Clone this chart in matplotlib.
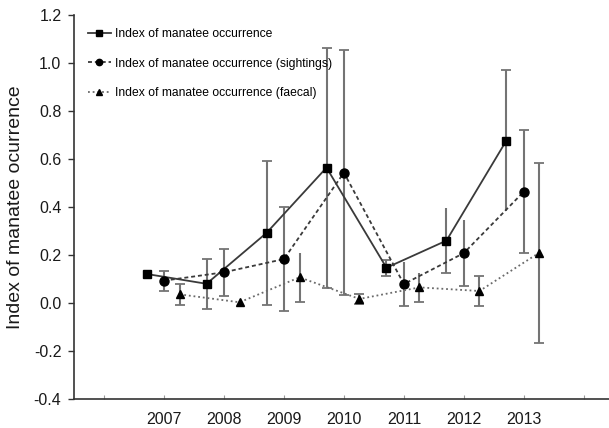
import matplotlib
matplotlib.use("Agg")
import matplotlib.pyplot as plt
import numpy as np

plt.rcParams["font.family"] = ["Liberation Sans", "DejaVu Sans"]

# --- data ---
years = [2007, 2008, 2009, 2010, 2011, 2012, 2013]

total_mean = [0.121, 0.080, 0.292, 0.564, 0.147, 0.260, 0.677]
total_err = [0.0, 0.104, 0.300, 0.500, 0.033, 0.135, 0.292]

sight_mean = [0.093, 0.128, 0.183, 0.543, 0.079, 0.208, 0.464]
sight_err = [0.041, 0.097, 0.215, 0.510, 0.091, 0.136, 0.257]

faecal_mean = [0.036, 0.003, 0.107, 0.017, 0.065, 0.050, 0.210]
faecal_err = [0.043, 0.0, 0.102, 0.021, 0.062, 0.062, 0.375]

labels = [
    "Index of manatee occurrence",
    "Index of manatee occurrence (sightings)",
    "Index of manatee occurrence (faecal)",
]

# which error-bar ends carry a cap in the original (top, bottom)
total_caps = [(0, 0), (1, 1), (1, 1), (1, 1), (1, 1), (0, 1), (1, 0)]
sight_caps = [(1, 1), (1, 1), (1, 1), (1, 1), (0, 1), (0, 1), (1, 1)]
faecal_caps = [(1, 1), (0, 0), (0, 1), (1, 1), (0, 1), (1, 1), (1, 1)]

ERR_COLOR = "#747474"
LINE_COLOR = "#3a3a3a"


def draw_series(ax, x, mean, err, caps, marker, ms, ls, lcolor, label):
    x = np.asarray(x, dtype=float)
    mean = np.asarray(mean)
    err = np.asarray(err)
    # vertical error lines
    for xi, m, e in zip(x, mean, err):
        if e > 0:
            ax.plot([xi, xi], [m - e, m + e], color=ERR_COLOR, lw=1.5,
                    solid_capstyle="butt", zorder=2)
    # caps
    for xi, m, e, (ct, cb) in zip(x, mean, err, caps):
        if e <= 0:
            continue
        if ct:
            ax.plot(xi, m + e, marker="_", ms=7.5, mew=1.3, color=ERR_COLOR, zorder=2)
        if cb:
            ax.plot(xi, m - e, marker="_", ms=7.5, mew=1.3, color=ERR_COLOR, zorder=2)
    line, = ax.plot(x, mean, ls=ls, color=lcolor, lw=1.3, marker=marker, ms=ms,
                    mfc="black", mec="black", zorder=3, label=label)
    return line


fig = plt.figure(figsize=(6.09, 4.28), dpi=100)
ax = fig.add_axes([74 / 609, 1 - 399 / 428, 1 - 74 / 609, (399 - 15) / 428])

yr = np.asarray(years, dtype=float)
h1 = draw_series(ax, yr - 0.29, total_mean, total_err, total_caps,
                 "s", 5.5, "-", LINE_COLOR, labels[0])
h2 = draw_series(ax, yr, sight_mean, sight_err, sight_caps,
                 "o", 6.5, (0, (2.2, 1.6)), LINE_COLOR, labels[1])
h3 = draw_series(ax, yr + 0.26, faecal_mean, faecal_err, faecal_caps,
                 "^", 6.0, (0, (1, 1.6)), "#6a6a6a", labels[2])

ax.set_xlim(2005.5, 2014.42)
ax.set_ylim(-0.4, 1.2)
ax.set_xticks(np.arange(2006, 2015))
ax.set_xticklabels([""] + [str(y) for y in years] + [""])
ax.set_yticks(np.arange(-0.4, 1.21, 0.2))
ax.set_yticklabels([f"{v:.1f}" for v in np.arange(-0.4, 1.21, 0.2)])

for side in ("top", "right"):
    ax.spines[side].set_visible(False)
for side in ("left", "bottom"):
    ax.spines[side].set_color("#333333")
    ax.spines[side].set_linewidth(1.2)

ax.tick_params(axis="x", direction="in", length=3, width=0.8, colors="#999999",
               labelcolor="#1a1a1a", labelsize=11.5, pad=9)
ax.tick_params(axis="y", direction="out", length=4, width=1.0, colors="#333333",
               labelcolor="#1a1a1a", labelsize=11.5, pad=5)

ax.set_ylabel("Index of manatee ocurrence", fontsize=14, color="#1a1a1a")
ax.yaxis.set_label_coords(-0.094, 0.5)

ax.legend(handles=[h1, h2, h3], loc="upper left", frameon=False,
          bbox_to_anchor=(88 / 609, 1 - 28 / 428), bbox_transform=fig.transFigure,
          borderpad=0, borderaxespad=0, fontsize=8.7, handlelength=1.9,
          handletextpad=0.3, labelspacing=1.45, markerscale=0.7)

fig.savefig("out.png", dpi=100)
